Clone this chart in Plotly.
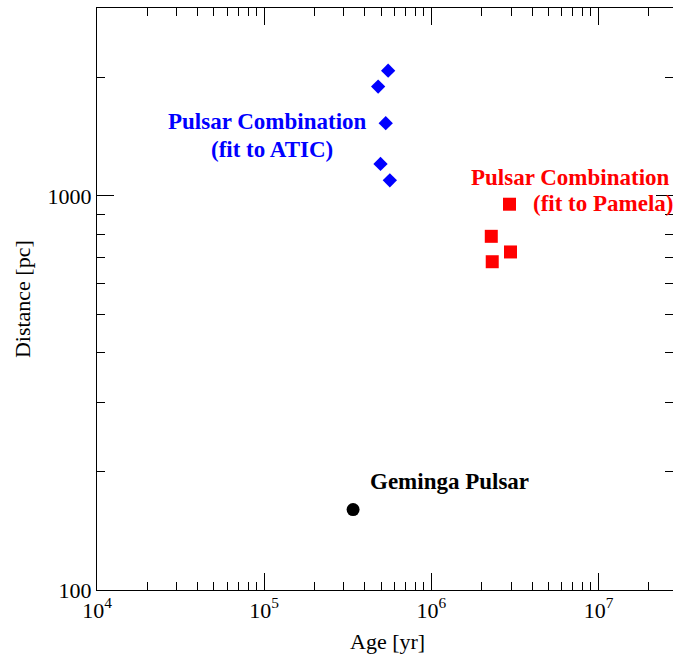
import plotly.graph_objects as go

# ---- data ----
atic_age = [5.51e5, 4.80e5, 5.33e5, 4.96e5, 5.64e5]
atic_dist = [2080, 1895, 1530, 1206, 1096]

pamela_age = [2.93e6, 2.28e6, 2.97e6, 2.31e6]
pamela_dist = [953, 790, 721, 681]

geminga_age = [3.4e5]
geminga_dist = [160]

x_major = [1e4, 1e5, 1e6, 1e7]
x_major_text = ["10<sup>4</sup>", "10<sup>5</sup>", "10<sup>6</sup>", "10<sup>7</sup>"]
x_minor = [k * 10 ** e for e in (4, 5, 6) for k in range(2, 10)] + [2e7]

y_major = [100, 1000]
y_major_text = ["100", "1000"]
y_minor = [k * 100 for k in range(2, 10)] + [2000, 3000]

FONT = "Liberation Serif, Times New Roman, serif"

fig = go.Figure()
fig.add_trace(go.Scatter(x=atic_age, y=atic_dist, mode="markers",
                         marker=dict(symbol="diamond", size=11, color="#0000FF"),
                         showlegend=False))
fig.add_trace(go.Scatter(x=pamela_age, y=pamela_dist, mode="markers",
                         marker=dict(symbol="square", size=13, color="#FF0000"),
                         showlegend=False))
fig.add_trace(go.Scatter(x=geminga_age, y=geminga_dist, mode="markers",
                         marker=dict(symbol="circle", size=13, color="#000000"),
                         showlegend=False))

axis_common = dict(
    type="log", showgrid=False, zeroline=False,
    showline=True, linecolor="black", linewidth=1.3,
    mirror="ticks", ticks="inside", ticklen=17, tickwidth=1, tickcolor="black",
    tickfont=dict(family=FONT, size=22, color="black"),
)

fig.update_xaxes(range=[4, 7.4447], tickmode="array", tickvals=x_major,
                 ticktext=x_major_text,
                 minor=dict(tickmode="array", tickvals=x_minor, ticks="inside",
                            ticklen=8, tickwidth=1, tickcolor="black"),
                 **axis_common)
fig.update_yaxes(range=[2, 3.4771], tickmode="array", tickvals=y_major,
                 ticktext=y_major_text,
                 minor=dict(tickmode="array", tickvals=y_minor, ticks="inside",
                            ticklen=8, tickwidth=1, tickcolor="black"),
                 **axis_common)

ann_font = dict(family=FONT, size=23)
annotations = [
    dict(text="<b>Pulsar Combination</b>", x=5.021, y=3.188, xanchor="center",
         yanchor="middle", font=dict(color="#0000FF", **ann_font)),
    dict(text="<b>(fit to ATIC)</b>", x=5.045, y=3.119, xanchor="center",
         yanchor="middle", font=dict(color="#0000FF", **ann_font)),
    dict(text="<b>Pulsar Combination</b>", x=6.224, y=3.048, xanchor="left",
         yanchor="middle", font=dict(color="#FF0000", **ann_font)),
    dict(text="<b>(fit to Pamela)</b>", x=6.595, y=2.980, xanchor="left",
         yanchor="middle", font=dict(color="#FF0000", **ann_font)),
    dict(text="<b>Geminga Pulsar</b>", x=5.622, y=2.276, xanchor="left",
         yanchor="middle", font=dict(color="#000000", **ann_font)),
    dict(text="Age [yr]", xref="paper", yref="paper", x=0.505, y=-0.0888,
         xanchor="center", yanchor="middle",
         font=dict(family=FONT, size=22, color="black")),
    dict(text="Distance [pc]", xref="paper", yref="paper", x=-0.130, y=0.5,
         xanchor="center", yanchor="middle", textangle=-90,
         font=dict(family=FONT, size=22, color="black")),
]
for a in annotations:
    a.setdefault("showarrow", False)
fig.update_layout(annotations=annotations)

fig.update_layout(
    width=673, height=660,
    margin=dict(l=97, r=0, t=8, b=70),
    paper_bgcolor="white", plot_bgcolor="white",
    template="none",
    font=dict(family=FONT, color="black"),
)

fig.write_html("out.html",
               config={"displayModeBar": False},
               post_script="document.body.style.margin='0';document.body.style.overflow='hidden';")
